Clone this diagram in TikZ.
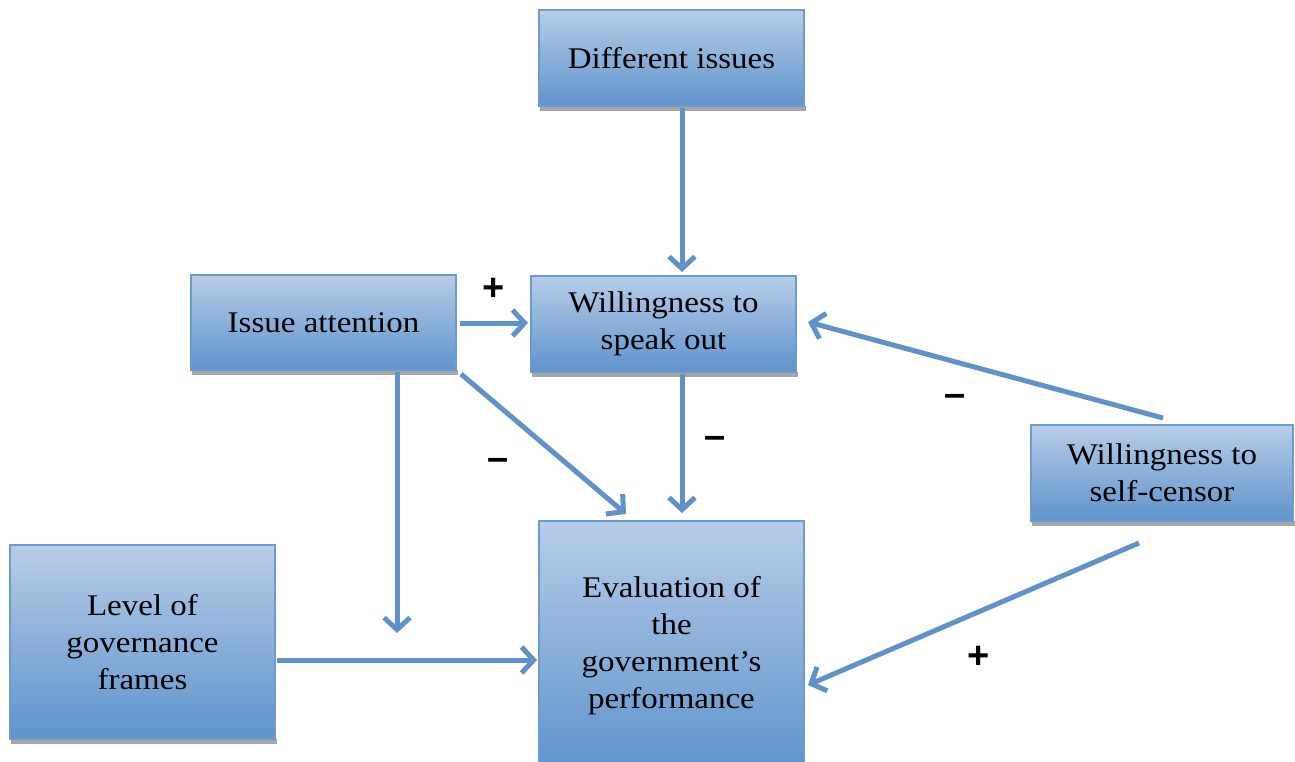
\documentclass[tikz,border=0pt]{standalone}
\usepackage{fontspec}
\setmainfont{Liberation Serif}[FakeStretch=1.1]
\newfontfamily\signfont{Liberation Sans}
\usetikzlibrary{arrows.meta,positioning,calc}
\definecolor{boxtop}{HTML}{B7CDE8}
\definecolor{boxbot}{HTML}{5E93CB}
\definecolor{boxline}{HTML}{6C9BD1}
\definecolor{arr}{HTML}{5F92C9}
\definecolor{shad}{HTML}{A6A6A6}
\tikzset{
  flowbox/.style={draw=boxline, line width=1.5pt, top color=boxtop, bottom color=boxbot,
    minimum width=265pt, align=center, font=\fontsize{30}{37}\selectfont, inner sep=0pt},
  conn/.style={draw=arr, line width=5pt, -{Straight Barb[length=12pt,width=26pt,line width=5pt]}},
  sign/.style={font=\signfont\bfseries\fontsize{38}{40}\selectfont, inner sep=0pt},
}
\newcommand{\shadowbox}[4]{\fill[shad] (#1+1,#4) rectangle (#3+2,#4+5);}
\begin{document}
\begin{tikzpicture}[x=1pt,y=-1pt]
\useasboundingbox (0,0) rectangle (1295,761);
% shadows
\shadowbox{539}{10}{804}{106}
\shadowbox{191}{275}{456}{370}
\shadowbox{531}{276}{796}{372}
\shadowbox{1031}{425}{1293}{521}
\shadowbox{10}{545}{275}{739}
% boxes
\node[flowbox, minimum height=96pt] (diff) at (671.5,58) {Different issues};
\node[flowbox, minimum height=95pt] (att) at (323.5,322.5) {Issue attention};
\node[flowbox, minimum height=96pt] (speak) at (663.5,324) {Willingness to\\speak out};
\node[flowbox, minimum height=96pt, minimum width=262pt] (cens) at (1162,473) {Willingness to\\self-censor};
\node[flowbox, minimum height=194pt] (lev) at (142.5,642) {Level of\\governance\\frames};
\node[flowbox, minimum height=250pt] (eval) at (671.5,646) {Evaluation of\\the\\government's\\performance};
% connector endpoints
\coordinate (d1) at (682,108);
\coordinate (d2) at (682,272);
\coordinate (a1) at (460,323);
\coordinate (a2) at (528,323);
\coordinate (a3) at (397,372);
\coordinate (a4) at (397,633);
\coordinate (a5) at (461,374);
\coordinate (a6) at (626,514);
\coordinate (s1) at (682,374);
\coordinate (s2) at (682,513);
\coordinate (c1) at (1163,418);
\coordinate (c2) at (808,322);
\coordinate (c3) at (1139,543);
\coordinate (c4) at (808,685);
\coordinate (l1) at (277,660);
\coordinate (l2) at (537,660);
\draw[conn] (d1) -- (d2);
\draw[conn] (a1) -- (a2);
\draw[conn] (a3) -- (a4);
\draw[conn] (a5) -- (a6);
\draw[conn] (s1) -- (s2);
\draw[conn] (c1) -- (c2);
\draw[conn] (c3) -- (c4);
\draw[conn] (l1) -- (l2);
% signs
\node[sign] (p1) at (494,289) {+};
\node[sign] (m1) at (498,464) {\textendash};
\node[sign] (m2) at (715,442) {\textendash};
\node[sign] (m3) at (955,400) {\textendash};
\node[sign] (p2) at (979,657) {+};
\end{tikzpicture}
\end{document}
